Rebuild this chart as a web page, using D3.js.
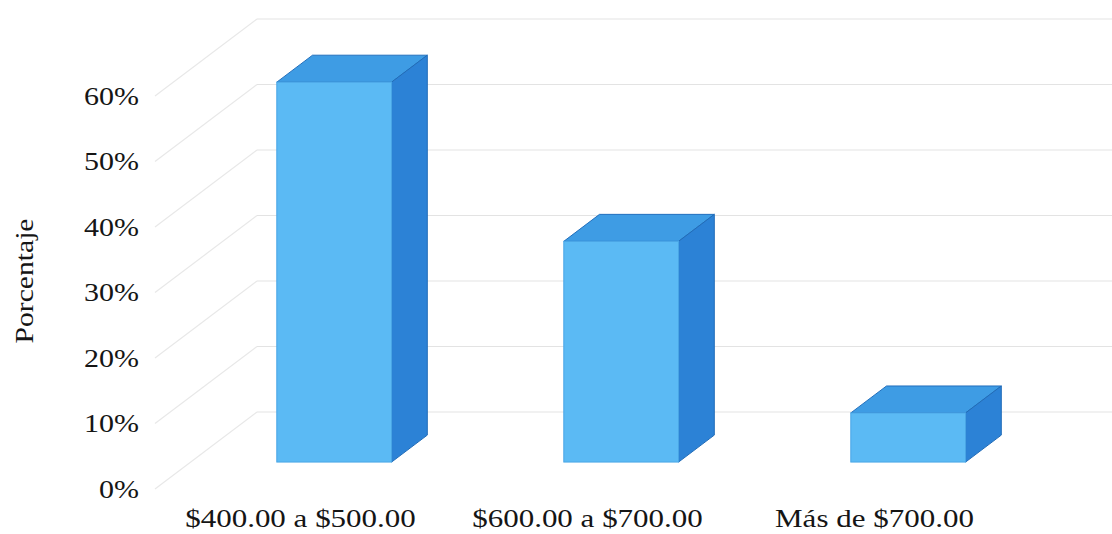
<!DOCTYPE html>
<html>
<head>
<meta charset="utf-8">
<script src="https://cdn.jsdelivr.net/npm/d3@7"></script>
<style>
html,body{margin:0;padding:0;background:#fff;}
svg{display:block;}
text{font-family:"Liberation Serif","Times New Roman",serif;fill:#151515;}
</style>
</head>
<body>
<svg id="chart" width="1112" height="534"></svg>
<script>
const categories = ["$400.00 a $500.00", "$600.00 a $700.00", "Más de $700.00"];
const values = [0.58, 0.337, 0.075];
const tickValues = [0, 0.1, 0.2, 0.3, 0.4, 0.5, 0.6];
const yTitle = "Porcentaje";

const W = 1112, H = 534;
const svg = d3.select("#chart");

// oblique 3D geometry
const DX = 102, DY = -77;        // full depth offset
const d0 = 0.35, d1 = 0.70;      // bar depth span
const xL = 155, xR = 1016;

const x = d3.scaleBand().domain(categories).range([xL, xR]).padding(0);
const y = d3.scaleLinear().domain([0, 0.6]).range([489, 96]);
const fmt = d3.format(".0%");

const TX = 1.2; // horizontal text stretch

// side wall diagonals + back wall horizontals
const grid = svg.append("g");
tickValues.forEach(v => {
  grid.append("line")
    .attr("x1", xL).attr("y1", y(v))
    .attr("x2", xL + DX).attr("y2", y(v) + DY)
    .attr("stroke", "#e8e8e8").attr("stroke-width", 1.2);
  grid.append("line")
    .attr("x1", xL + DX).attr("y1", y(v) + DY)
    .attr("x2", W).attr("y2", y(v) + DY)
    .attr("stroke", "#e3e3e3").attr("stroke-width", 1.2);
});

// y tick labels
svg.append("g").selectAll("text").data(tickValues).join("text")
  .attr("transform", d => `translate(139,${y(d)}) scale(${TX},1)`)
  .attr("text-anchor", "end")
  .attr("dominant-baseline", "central")
  .attr("font-size", 25)
  .text(d => fmt(d));

// y title
svg.append("text")
  .attr("transform", `translate(33,281) rotate(-90) scale(1.14,1)`)
  .attr("text-anchor", "middle")
  .attr("font-size", 26)
  .text(yTitle);

// bars
const bars = svg.append("g");
const bw = x.bandwidth() * 0.4;
categories.forEach((c, i) => {
  const v = values[i];
  const bx = x(c) + (x.bandwidth() - bw) / 2;
  const ox0 = d0 * DX, oy0 = d0 * DY, ox1 = d1 * DX, oy1 = d1 * DY;
  const yt = y(v), yb = y(0);
  const P = (px, py) => `${px},${py}`;
  // top face
  bars.append("polygon")
    .attr("points", [P(bx + ox0, yt + oy0), P(bx + bw + ox0, yt + oy0), P(bx + bw + ox1, yt + oy1), P(bx + ox1, yt + oy1)].join(" "))
    .attr("fill", "#3e9ce4").attr("stroke", "#2370bd").attr("stroke-width", 1);
  // side face
  bars.append("polygon")
    .attr("points", [P(bx + bw + ox0, yt + oy0), P(bx + bw + ox1, yt + oy1), P(bx + bw + ox1, yb + oy1), P(bx + bw + ox0, yb + oy0)].join(" "))
    .attr("fill", "#2c82d6").attr("stroke", "#216cb8").attr("stroke-width", 1);
  // front face
  bars.append("rect")
    .attr("x", bx + ox0).attr("y", yt + oy0)
    .attr("width", bw).attr("height", yb - yt)
    .attr("fill", "#5bbaf4").attr("stroke", "#4aa6e6").attr("stroke-width", 1);
});

// category labels
svg.append("g").selectAll("text").data(categories).join("text")
  .attr("transform", d => `translate(${x(d) + x.bandwidth() / 2 + 2},527) scale(1.24,1)`)
  .attr("text-anchor", "middle")
  .attr("font-size", 25)
  .text(d => d);
</script>
</body>
</html>
